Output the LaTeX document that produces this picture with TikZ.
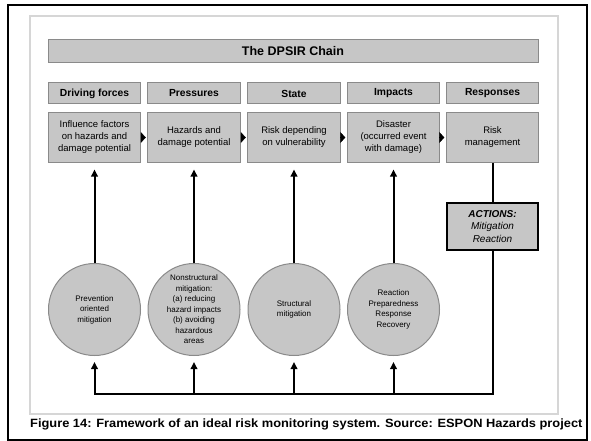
\documentclass[tikz,border=0pt]{standalone}
\usepackage{fontspec}
\setmainfont{Liberation Sans}
\newfontfamily\capfont[FakeStretch=1.07]{Liberation Sans}
\usetikzlibrary{arrows.meta}
\definecolor{boxgray}{HTML}{C6C6C6}
\definecolor{edgegray}{HTML}{8A8A8A}
\definecolor{framegray}{HTML}{D6D6D6}

\begin{document}
\begin{tikzpicture}[x=1pt,y=-1pt,
  graybox/.style={draw=edgegray, fill=boxgray, line width=1pt, inner sep=0pt, align=center},
  titlebar/.style={graybox, minimum width=490pt, minimum height=23pt,
    font=\fontsize{12.5}{14}\selectfont\bfseries},
  header/.style={graybox, minimum width=92.5pt, minimum height=21pt,
    font=\fontsize{10.3}{12}\selectfont\bfseries},
  content/.style={graybox, minimum width=92.5pt, minimum height=49pt,
    font=\fontsize{9.5}{12}\selectfont},
  measure/.style={circle, draw=edgegray, fill=boxgray, line width=1pt, inner sep=0pt,
    minimum size=92pt, align=center, font=\fontsize{8}{10.5}\selectfont},
  actionbox/.style={draw=black, fill=boxgray, line width=2.2pt, inner sep=0pt,
    minimum width=91pt, minimum height=47pt, align=center,
    font=\fontsize{10}{12.5}\selectfont},
  chainlink/.style={-{Triangle[length=5pt,width=11pt]}, line width=0.4pt, shorten >=1.5pt},
  uparrow/.style={-{Triangle[length=7pt,width=6.5pt]}, line width=2pt},
  feedline/.style={line width=2pt},
]
\useasboundingbox (0,0) rectangle (591,441);

% page frame and panel frame
\draw[line width=2pt] (8,5) rectangle (587,440);
\draw[framegray, line width=2pt] (30,16) rectangle (558,414);

% chain title
\node[titlebar] (title) at (293,51.5) {The DPSIR Chain};

% DPSIR headers
\node[header] (h1) at (94.5,93.5)  {Driving forces};
\node[header] (h2) at (194,93.5)   {Pressures};
\node[header] (h3) at (294,93.5)   {State};
\node[header] (h4) at (393.5,93.5) {Impacts};
\node[header] (h5) at (492.5,93.5) {Responses};

% chain contents
\node[content] (r1) at (94.5,137.5)  {Influence factors\\on hazards and\\damage potential};
\node[content] (r2) at (194,137.5)   {Hazards and\\damage potential};
\node[content] (r3) at (294,137.5)   {Risk depending\\on vulnerability};
\node[content] (r4) at (393.5,137.5) {Disaster\\(occurred event\\with damage)};
\node[content] (r5) at (492.5,137.5) {Risk\\management};

\draw[chainlink] (r1.east) -- (r2.west);
\draw[chainlink] (r2.east) -- (r3.west);
\draw[chainlink] (r3.east) -- (r4.west);
\draw[chainlink] (r4.east) -- (r5.west);

% actions box
\node[actionbox] (acts) at (492.5,226.5)
  {\textbf{\textit{ACTIONS:}}\\\textit{Mitigation}\\\textit{Reaction}};

% measures
\node[measure] (m1) at (94.5,309.5)  {Prevention\\oriented\\mitigation};
\node[measure] (m2) at (194,309.5)   {Nonstructural\\mitigation:\\(a) reducing\\hazard impacts\\(b) avoiding\\hazardous\\areas};
\node[measure] (m3) at (294,309.5)   {Structural\\mitigation};
\node[measure] (m4) at (393.5,309.5) {Reaction\\Preparedness\\Response\\Recovery};

% feedback loop
\coordinate (b1) at (94.5,394);
\coordinate (b2) at (194,394);
\coordinate (b3) at (294,394);
\coordinate (b4) at (393.5,394);
\coordinate (b5) at (492.5,394);

\draw[feedline, line cap=rect] (b1) -- (b5);
\draw[feedline] (r5.south) -- (acts.north);
\draw[feedline, line cap=rect] (acts.south) -- (b5);

\foreach \i in {1,2,3,4} {
  \draw[uparrow, shorten >=6pt] (b\i) -- (m\i.south);
  \draw[uparrow, shorten >=7pt] (m\i.north) -- (r\i.south);
}

% caption
\node[anchor=west, inner sep=0pt, font=\capfont\fontsize{12}{14}\selectfont\bfseries] (cap) at (30,424)
  {Figure 14: Framework of an ideal risk monitoring system. Source: ESPON Hazards project};
\end{tikzpicture}
\end{document}
